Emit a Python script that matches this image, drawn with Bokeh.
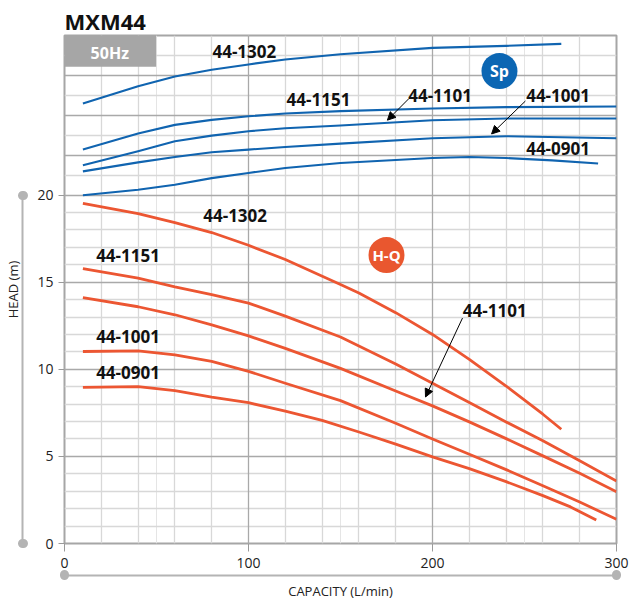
from bokeh.plotting import figure
from bokeh.models import Range1d, LinearAxis, FixedTicker, Grid, Arrow, NormalHead, Label
from bokeh.core.properties import value
from bokeh.embed import file_html
from bokeh.resources import INLINE

# ---------------- data ----------------
# H-Q curves: capacity (L/min) -> head (m)
hq_1302_q = [10, 40, 60, 80, 100, 120, 150, 160, 180, 200, 220, 240, 260, 270]
hq_1302_h = [19.53, 18.93, 18.42, 17.85, 17.12, 16.3, 14.87, 14.38, 13.25, 12.0, 10.57, 9.04, 7.42, 6.56]
hq_1151_q = [10, 40, 60, 80, 100, 120, 150, 180, 200, 220, 240, 260, 280, 300]
hq_1151_h = [15.78, 15.23, 14.73, 14.28, 13.8, 13.05, 11.85, 10.3, 9.2, 8.1, 6.98, 5.9, 4.75, 3.59]
hq_1101_q = [10, 40, 60, 80, 100, 120, 150, 180, 200, 220, 240, 260, 280, 300]
hq_1101_h = [14.12, 13.59, 13.13, 12.55, 11.92, 11.2, 10.05, 8.75, 7.9, 6.98, 6.02, 5.03, 4.03, 2.97]
hq_1001_q = [10, 40, 60, 80, 100, 120, 150, 180, 200, 220, 240, 260, 280, 300]
hq_1001_h = [11.02, 11.06, 10.83, 10.45, 9.88, 9.2, 8.2, 6.9, 6.0, 5.12, 4.24, 3.32, 2.38, 1.39]
hq_0901_q = [10, 40, 60, 80, 100, 120, 140, 160, 180, 200, 220, 240, 260, 275, 289]
hq_0901_h = [8.96, 9.0, 8.77, 8.4, 8.08, 7.6, 7.07, 6.4, 5.7, 4.97, 4.3, 3.55, 2.75, 2.1, 1.35]

# Shaft power curves: capacity (L/min) -> power (kW)
sp_1302_q = [10, 40, 60, 80, 100, 120, 150, 200, 240, 270]
sp_1302_p = [0.659, 0.746, 0.794, 0.828, 0.855, 0.880, 0.906, 0.938, 0.948, 0.958]
sp_1151_q = [10, 40, 60, 80, 100, 120, 150, 200, 240, 300]
sp_1151_p = [0.428, 0.509, 0.552, 0.577, 0.595, 0.609, 0.621, 0.634, 0.641, 0.644]
sp_1101_q = [10, 40, 60, 80, 100, 120, 150, 200, 240, 300]
sp_1101_p = [0.349, 0.420, 0.470, 0.498, 0.520, 0.535, 0.549, 0.575, 0.584, 0.584]
sp_1001_q = [10, 40, 60, 80, 100, 120, 150, 200, 240, 300]
sp_1001_p = [0.319, 0.364, 0.391, 0.415, 0.428, 0.441, 0.458, 0.485, 0.495, 0.485]
sp_0901_q = [10, 40, 60, 80, 100, 120, 150, 200, 220, 240, 265, 290]
sp_0901_p = [0.199, 0.227, 0.252, 0.285, 0.311, 0.336, 0.361, 0.386, 0.391, 0.386, 0.374, 0.358]

x_ticks = [0, 100, 200, 300]
head_ticks = [0, 5, 10, 15, 20]
power_ticks = [0.2, 0.4, 0.6, 0.8, 1.0]
power_tick_labels = ["0.2", "0.4", "0.6", "0.8", "1.0"]

# ---------------- styling ----------------
BLUE = "#1064b0"
RED = "#ec5632"
GRID_MINOR = "#d8d8d8"
GRID_MAJOR = "#a9a9a9"
FRAME = "#a6a6a6"
DECO = "#b4b4b4"
FONT = "Open Sans"

W, H = 632, 604
B_LEFT, B_RIGHT, B_TOP, B_BOTTOM = 64, 16, 35, 61
FRAME_W = W - B_LEFT - B_RIGHT
X_MAX = 300
M_PER_KW = 11.45                     # head metres per kW on the shared frame
HEAD_TOP = 20 + 0.8 * M_PER_KW

p = figure(width=W, height=H, x_range=Range1d(0, X_MAX), y_range=Range1d(0, HEAD_TOP),
           output_backend="svg", toolbar_location=None,
           x_axis_location=None, y_axis_location=None,
           min_border_left=B_LEFT, min_border_right=B_RIGHT,
           min_border_top=B_TOP, min_border_bottom=B_BOTTOM)
p.extra_y_ranges = {"power": Range1d(0.2 - 20 / M_PER_KW, 1.0)}
p.outline_line_color = FRAME
p.outline_line_width = 2
p.background_fill_color = "white"
p.border_fill_color = "white"

p.title.text = "MXM44"
p.title.text_font = FONT
p.title.text_font_size = "22px"
p.title.text_font_style = "bold"
p.title.text_color = "#111111"
p.title.standoff = 0
p.title.offset = 0

# ---------------- grids ----------------
x_minor = [v for v in range(20, X_MAX, 20) if v % 100]
x_major = [100, 200]
h_minor = [v for v in range(1, 20) if v % 5]
h_major = [5, 10, 15, 20]
p_minor = [0.3, 0.5, 0.7, 0.9]
p_major = [0.4, 0.6, 0.8]
for dim, ticks, col, rng in [(0, x_minor, GRID_MINOR, None), (1, h_minor, GRID_MINOR, None),
                             (1, p_minor, GRID_MINOR, "power"),
                             (0, x_major, GRID_MAJOR, None), (1, h_major, GRID_MAJOR, None),
                             (1, p_major, GRID_MAJOR, "power")]:
    g = Grid(dimension=dim, ticker=FixedTicker(ticks=ticks), grid_line_color=col, grid_line_width=1.3)
    if rng:
        g.y_range_name = rng
    p.add_layout(g)

# ---------------- axes ----------------
def style_labels(ax, size="14px"):
    ax.major_label_text_font = FONT
    ax.major_label_text_font_size = size
    ax.major_label_text_color = "#222222"

def spacer_axis(px, at):
    # blank gap between the tick-label axis and the decorative rule
    return LinearAxis(ticker=FixedTicker(ticks=[at]), axis_line_color=None, major_tick_out=px,
                      major_tick_in=0, major_tick_line_color="white", major_label_standoff=0,
                      major_label_overrides={at: ""}, major_label_text_font_size="0px",
                      minor_tick_line_color=None)

def deco_axis(lo, hi, label, standoff):
    return LinearAxis(bounds=(lo, hi), ticker=FixedTicker(ticks=[lo, hi]), axis_line_color=DECO,
                      axis_line_width=2, major_tick_in=1, major_tick_out=0, major_tick_line_width=9,
                      major_tick_line_color=DECO, major_tick_line_cap="round",
                      minor_tick_line_color=None, major_label_overrides={lo: "", hi: ""},
                      major_label_standoff=0, major_label_text_font_size="0px",
                      axis_label=label, axis_label_standoff=standoff, axis_label_text_font=FONT,
                      axis_label_text_font_size="13px", axis_label_text_font_style="normal",
                      axis_label_text_color="#222222")

yax = LinearAxis(ticker=FixedTicker(ticks=head_ticks), axis_line_color=None,
                 major_tick_out=6, major_tick_in=0, major_tick_line_color="#9a9a9a",
                 minor_tick_line_color=None, major_label_standoff=5)
style_labels(yax)
p.add_layout(yax, "left")
p.add_layout(spacer_axis(12, 10), "left")
p.add_layout(deco_axis(0, 20, "HEAD (m)", 1), "left")

xax = LinearAxis(ticker=FixedTicker(ticks=x_ticks), axis_line_color=None,
                 major_tick_out=8, major_tick_in=0, major_tick_line_color="#9a9a9a",
                 minor_tick_line_color=None, major_label_standoff=6)
style_labels(xax)
p.add_layout(xax, "below")
p.add_layout(spacer_axis(5, 150), "below")
p.add_layout(deco_axis(0, X_MAX, "CAPACITY (L/min)", 6), "below")

# right-hand power scale: tick marks and (edge-cut) labels just outside the frame
tick_len = 8 * X_MAX / FRAME_W
for t, lab in zip(power_ticks, power_tick_labels):
    p.add_layout(Arrow(start=None, end=None, x_start=X_MAX, x_end=X_MAX + tick_len,
                       y_start=t, y_end=t, y_range_name="power",
                       line_color="#9a9a9a", line_width=1))
    p.add_layout(Label(x=X_MAX, y=t, y_range_name="power", x_offset=11, text=lab,
                       text_baseline="middle", text_font=FONT, text_font_size="14px",
                       text_color="#222222"))

# ---------------- curves ----------------
for q, h in [(hq_1302_q, hq_1302_h), (hq_1151_q, hq_1151_h), (hq_1101_q, hq_1101_h),
             (hq_1001_q, hq_1001_h), (hq_0901_q, hq_0901_h)]:
    p.line(q, h, line_color=RED, line_width=2.8, line_join="round")
for q, pw in [(sp_1302_q, sp_1302_p), (sp_1151_q, sp_1151_p), (sp_1101_q, sp_1101_p),
              (sp_1001_q, sp_1001_p), (sp_0901_q, sp_0901_p)]:
    p.line(q, pw, line_color=BLUE, line_width=2.1, line_join="round", y_range_name="power")

# ---------------- annotations ----------------
p.quad(left=[0], right=[49.8], top=[HEAD_TOP], bottom=[27.37], fill_color="#a6a6a6", line_color=None)
p.text(x=[24.6], y=[28.17], text=["50Hz"], text_font=value(FONT), text_font_style="bold",
       text_font_size="16px", text_color="white", text_align="center", text_baseline="middle")

p.scatter(x=[236.4], y=[27.12], size=36, fill_color="#0b66b3", line_color=None)
p.text(x=[236.4], y=[27.12], text=["Sp"], text_font=value(FONT), text_font_style="bold",
       text_font_size="16px", text_color="white", text_align="center", text_baseline="middle")
p.scatter(x=[175.0], y=[16.56], size=36, fill_color="#e9572f", line_color=None)
p.text(x=[175.0], y=[16.56], text=["H-Q"], text_font=value(FONT), text_font_style="bold",
       text_font_size="15px", text_color="white", text_align="center", text_baseline="middle")

label_x = [80.4, 120.7, 186.8, 250.9, 250.9, 75.4, 17.2, 216.5, 17.2, 17.2]
label_y = [28.27, 25.46, 25.73, 25.73, 22.66, 18.80, 16.56, 13.35, 11.87, 9.84]
label_t = ["44-1302", "44-1151", "44-1101", "44-1001", "44-0901",
           "44-1302", "44-1151", "44-1101", "44-1001", "44-0901"]
p.text(x=label_x, y=label_y, text=label_t, text_font=value(FONT), text_font_style="bold",
       text_font_size="17px", text_color="#111111", text_align="left", text_baseline="middle")

for xs, ys, xe, ye in [(187.0, 25.52, 175.5, 24.30), (250.5, 25.40, 232.1, 23.51),
                       (216.3, 12.94, 196.2, 8.41)]:
    p.add_layout(Arrow(end=NormalHead(size=8, fill_color="black", line_color="black", line_width=1),
                       x_start=xs, y_start=ys, x_end=xe, y_end=ye, line_color="black", line_width=1))

open("out.html", "w").write(file_html(p, INLINE))
